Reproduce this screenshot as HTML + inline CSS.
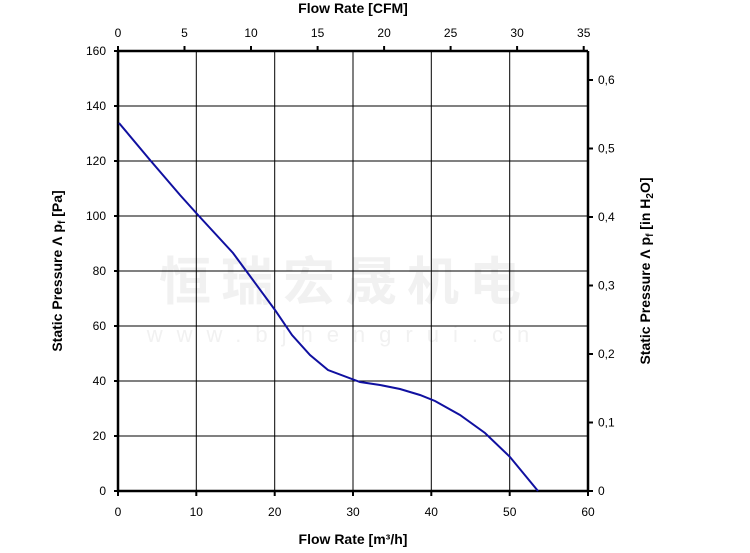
<!DOCTYPE html>
<html><head><meta charset="utf-8"><style>body{margin:0;background:#fff}svg{display:block}</style></head><body>
<svg width="750" height="553" viewBox="0 0 750 553" xmlns="http://www.w3.org/2000/svg" font-family="Liberation Sans, Arial, sans-serif">
<text x="345" y="300" font-size="52" fill="#f1f1f1" text-anchor="middle" font-weight="bold" font-family="Liberation Sans, Noto Sans CJK SC, sans-serif" letter-spacing="10">恒瑞宏晟机电</text>
<text x="345" y="342" font-size="22" fill="#f1f1f1" text-anchor="middle" letter-spacing="14">www.bjhengrui.cn</text>
<g stroke="#000" stroke-width="1">
<line x1="196.3" y1="51" x2="196.3" y2="491"/><line x1="274.7" y1="51" x2="274.7" y2="491"/><line x1="353" y1="51" x2="353" y2="491"/><line x1="431.3" y1="51" x2="431.3" y2="491"/><line x1="509.7" y1="51" x2="509.7" y2="491"/>
<line x1="118" y1="106" x2="588" y2="106"/><line x1="118" y1="161" x2="588" y2="161"/><line x1="118" y1="216" x2="588" y2="216"/><line x1="118" y1="271" x2="588" y2="271"/><line x1="118" y1="326" x2="588" y2="326"/><line x1="118" y1="381" x2="588" y2="381"/><line x1="118" y1="436" x2="588" y2="436"/>
</g>
<g stroke="#000" stroke-width="2.5" fill="none">
<line x1="118" y1="51" x2="588" y2="51"/><line x1="118" y1="491" x2="588" y2="491"/><line x1="118" y1="51" x2="118" y2="491"/><line x1="588" y1="51" x2="588" y2="491"/>
</g>
<g stroke="#000" stroke-width="2">
<line x1="114" y1="51" x2="118" y2="51"/><line x1="114" y1="106" x2="118" y2="106"/><line x1="114" y1="161" x2="118" y2="161"/><line x1="114" y1="216" x2="118" y2="216"/><line x1="114" y1="271" x2="118" y2="271"/><line x1="114" y1="326" x2="118" y2="326"/><line x1="114" y1="381" x2="118" y2="381"/><line x1="114" y1="436" x2="118" y2="436"/><line x1="114" y1="491" x2="118" y2="491"/>
<line x1="118" y1="491" x2="118" y2="496"/><line x1="196.3" y1="491" x2="196.3" y2="496"/><line x1="274.7" y1="491" x2="274.7" y2="496"/><line x1="353" y1="491" x2="353" y2="496"/><line x1="431.3" y1="491" x2="431.3" y2="496"/><line x1="509.7" y1="491" x2="509.7" y2="496"/><line x1="588" y1="491" x2="588" y2="496"/>
<line x1="118" y1="46" x2="118" y2="51"/><line x1="184.5" y1="46" x2="184.5" y2="51"/><line x1="251" y1="46" x2="251" y2="51"/><line x1="317.6" y1="46" x2="317.6" y2="51"/><line x1="384.1" y1="46" x2="384.1" y2="51"/><line x1="450.6" y1="46" x2="450.6" y2="51"/><line x1="517.1" y1="46" x2="517.1" y2="51"/><line x1="583.7" y1="46" x2="583.7" y2="51"/>
<line x1="588" y1="491" x2="593" y2="491"/><line x1="588" y1="422.5" x2="593" y2="422.5"/><line x1="588" y1="354" x2="593" y2="354"/><line x1="588" y1="285.5" x2="593" y2="285.5"/><line x1="588" y1="217" x2="593" y2="217"/><line x1="588" y1="148.5" x2="593" y2="148.5"/><line x1="588" y1="80" x2="593" y2="80"/>
</g>
<g font-size="12" fill="#000" text-anchor="end">
<text x="106" y="55">160</text><text x="106" y="110">140</text><text x="106" y="165">120</text><text x="106" y="220">100</text><text x="106" y="275">80</text><text x="106" y="330">60</text><text x="106" y="385">40</text><text x="106" y="440">20</text><text x="106" y="495">0</text>
</g>
<g font-size="12" fill="#000" text-anchor="middle">
<text x="118" y="516">0</text><text x="196.3" y="516">10</text><text x="274.7" y="516">20</text><text x="353" y="516">30</text><text x="431.3" y="516">40</text><text x="509.7" y="516">50</text><text x="588" y="516">60</text>
<text x="118" y="37">0</text><text x="184.5" y="37">5</text><text x="251" y="37">10</text><text x="317.6" y="37">15</text><text x="384.1" y="37">20</text><text x="450.6" y="37">25</text><text x="517.1" y="37">30</text><text x="583.7" y="37">35</text>
</g>
<g font-size="12" fill="#000">
<text x="598" y="495">0</text><text x="598" y="426.5">0,1</text><text x="598" y="358">0,2</text><text x="598" y="289.5">0,3</text><text x="598" y="221">0,4</text><text x="598" y="152.5">0,5</text><text x="598" y="84">0,6</text>
</g>
<g font-size="14" font-weight="bold" fill="#000" text-anchor="middle">
<text x="353" y="13">Flow Rate [CFM]</text>
<text x="353" y="544">Flow Rate [m³/h]</text>
<text transform="translate(62,271) rotate(-90)">Static Pressure Λ p<tspan font-size="10" dy="3">f</tspan><tspan dy="-3"> [Pa]</tspan></text>
<text transform="translate(650,271) rotate(-90)">Static Pressure Λ p<tspan font-size="10" dy="3">f</tspan><tspan dy="-3"> [in H</tspan><tspan font-size="10" dy="3">2</tspan><tspan dy="-3">O]</tspan></text>
</g>
<polyline fill="none" stroke="#1010a0" stroke-width="2" points="119,123 150,160 180,195 198,215 233,253 247,272 275,310 292,335 310,355 328,370 360,382 380,385 400,389 420,395 435,401 460,415 485,433 510,457 538,491"/>
</svg>
</body></html>
